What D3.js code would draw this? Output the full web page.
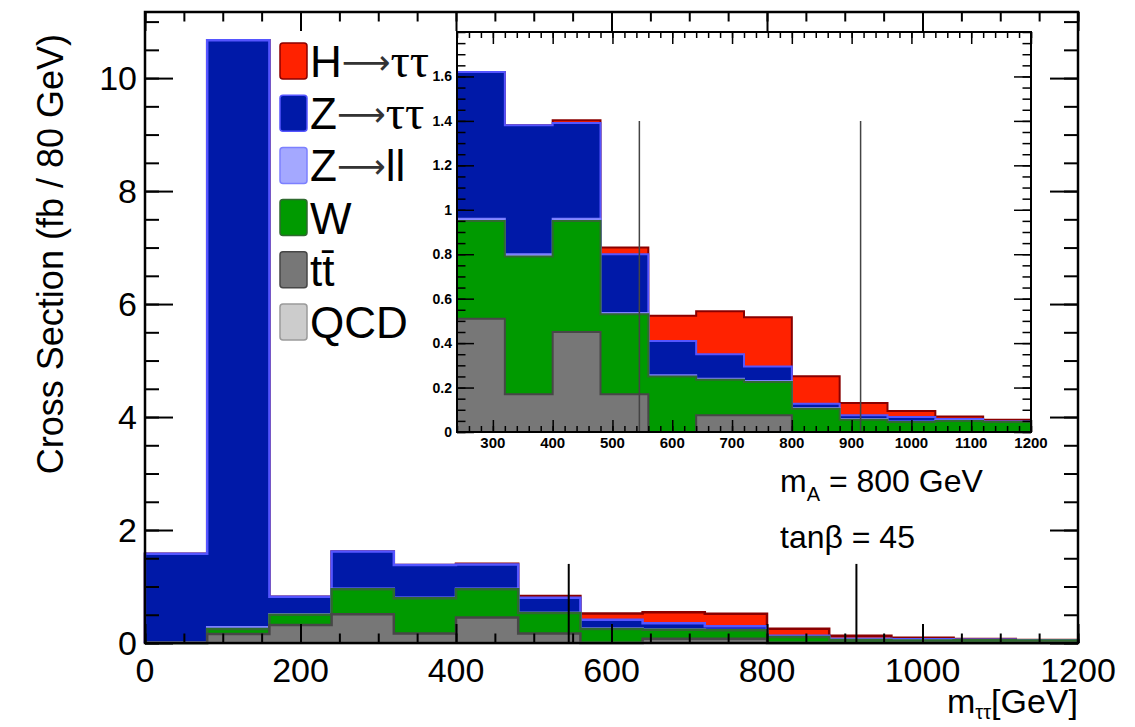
<!DOCTYPE html>
<html>
<head>
<meta charset="utf-8">
<title>m_tautau stack</title>
<script src="https://d3js.org/d3.v7.min.js"></script>
<style>
  body { margin: 0; background: #fff; }
  text { font-family: "Liberation Sans", Arial, Helvetica, sans-serif; fill: #000; }
</style>
</head>
<body>
<script>
// bins of 80 GeV
const binEdges = [0, 80, 160, 240, 320, 400, 480, 560, 640, 720, 800, 880, 960, 1040, 1120, 1200];
// per-bin contributions (fb / 80 GeV), stacked bottom -> top
const qcd   = [0, 0, 0, 0, 0, 0, 0, 0, 0, 0, 0, 0, 0, 0, 0];
const ttbar = [0, 0.16, 0.32, 0.51, 0.17, 0.45, 0.17, 0, 0.075, 0.075, 0, 0, 0, 0, 0];
const wjets = [0, 0.09, 0.18, 0.44, 0.62, 0.50, 0.36, 0.25, 0.16, 0.15, 0.105, 0.055, 0.045, 0.05, 0.045];
const zll   = [0.01, 0.03, 0.01, 0.01, 0.01, 0.01, 0.005, 0.005, 0.005, 0.005, 0.003, 0.003, 0.002, 0.002, 0.001];
const ztt   = [1.57, 10.39, 0.31, 0.66, 0.58, 0.43, 0.265, 0.155, 0.11, 0.065, 0.019, 0.017, 0.02, 0.006, 0.001];
const htt   = [0, 0, 0, 0, 0, 0.013, 0.03, 0.113, 0.193, 0.221, 0.124, 0.055, 0.027, 0.012, 0.008];

const cutLines = [545, 915];
const cutHeight = 1.4;

const mainXTicks = [0, 200, 400, 600, 800, 1000, 1200];
const mainYTicks = [0, 2, 4, 6, 8, 10];
const insetXTicks = [300, 400, 500, 600, 700, 800, 900, 1000, 1100, 1200];
const insetYTicks = [0, 0.2, 0.4, 0.6, 0.8, 1, 1.2, 1.4, 1.6];

const series = [
  { name: "QCD",  vals: qcd,   fill: "#cccccc", line: "#9a9a9a" },
  { name: "tt",   vals: ttbar, fill: "#777777", line: "#474747" },
  { name: "W",    vals: wjets, fill: "#009a00", line: "#2f6a2f" },
  { name: "Zll",  vals: zll,   fill: "#a4a8ff", line: "#7c80ff" },
  { name: "Ztt",  vals: ztt,   fill: "#0019a8", line: "#5555ff" },
  { name: "Htt",  vals: htt,   fill: "#ff2200", line: "#8a0000" }
];

// cumulative sums
let run = binEdges.slice(1).map(() => 0);
series.forEach(s => {
  run = run.map((r, i) => r + s.vals[i]);
  s.cum = run.slice();
});

const W = 1135, H = 727;
const svg = d3.select("body").append("svg").attr("width", W).attr("height", H);

function stack(g, x, y, xmin, sw) {
  const drawOrder = series.slice().reverse();
  drawOrder.forEach(s => {
    const pts = [];
    for (let i = 0; i < binEdges.length - 1; i++) {
      if (binEdges[i] < xmin) continue;
      pts.push({ x: binEdges[i], v: s.cum[i] });
      pts.push({ x: binEdges[i + 1], v: s.cum[i] });
    }
    g.append("path")
      .attr("d", d3.area().x(d => x(d.x)).y0(y(0)).y1(d => y(d.v))(pts))
      .attr("fill", s.fill);
    const outline = [{ x: pts[0].x, v: 0 }].concat(pts, [{ x: pts[pts.length - 1].x, v: 0 }]);
    g.append("path")
      .attr("d", d3.line().x(d => x(d.x)).y(d => y(d.v))(outline))
      .attr("fill", "none")
      .attr("stroke", s.line)
      .attr("stroke-width", sw);
  });
}

function ticks(g, x, y, majX, minX, majY, minY, lx, ly) {
  const [x0, x1] = x.range(), [y0, y1] = y.range();
  // bottom / top
  g.append("g").attr("transform", `translate(0,${y0})`)
    .call(d3.axisBottom(x).tickValues(minX).tickSize(-lx / 2).tickFormat(""));
  g.append("g").attr("transform", `translate(0,${y0})`)
    .call(d3.axisBottom(x).tickValues(majX).tickSize(-lx).tickFormat(""));
  g.append("g").attr("transform", `translate(0,${y1})`)
    .call(d3.axisTop(x).tickValues(minX).tickSize(-lx / 2).tickFormat(""));
  g.append("g").attr("transform", `translate(0,${y1})`)
    .call(d3.axisTop(x).tickValues(majX).tickSize(-lx).tickFormat(""));
  // left / right
  g.append("g").attr("transform", `translate(${x0},0)`)
    .call(d3.axisLeft(y).tickValues(minY).tickSize(-ly / 2).tickFormat(""));
  g.append("g").attr("transform", `translate(${x0},0)`)
    .call(d3.axisLeft(y).tickValues(majY).tickSize(-ly).tickFormat(""));
  g.append("g").attr("transform", `translate(${x1},0)`)
    .call(d3.axisRight(y).tickValues(minY).tickSize(-ly / 2).tickFormat(""));
  g.append("g").attr("transform", `translate(${x1},0)`)
    .call(d3.axisRight(y).tickValues(majY).tickSize(-ly).tickFormat(""));
  g.selectAll(".domain").remove();
  g.selectAll(".tick line").attr("stroke", "#000");
}

// ---------- main plot ----------
const mx = d3.scaleLinear().domain([0, 1200]).range([145, 1078]);
const my = d3.scaleLinear().domain([0, 11.17]).range([643, 12]);
const main = svg.append("g");
stack(main, mx, my, 0, 2.5);

main.selectAll(".cut").data(cutLines).join("line")
  .attr("x1", d => mx(d)).attr("x2", d => mx(d))
  .attr("y1", my(0)).attr("y2", my(cutHeight))
  .attr("stroke", "#000").attr("stroke-width", 2);

ticks(main, mx, my, mainXTicks, d3.range(0, 1201, 50), mainYTicks, d3.range(0, 11.1, 0.5), 19, 28);
main.selectAll(".tick line").attr("stroke-width", 2);
main.append("rect").attr("x", 145).attr("y", 12).attr("width", 933).attr("height", 631)
  .attr("fill", "none").attr("stroke", "#000").attr("stroke-width", 2.5);

main.selectAll(".xl").data(mainXTicks).join("text")
  .attr("x", d => mx(d)).attr("y", 682)
  .attr("text-anchor", "middle").attr("font-size", 34).text(d => d);
main.selectAll(".yl").data(mainYTicks).join("text")
  .attr("x", 137).attr("y", d => my(d) + 12)
  .attr("text-anchor", "end").attr("font-size", 34).text(d => d);

svg.append("text")
  .attr("transform", "translate(63,34) rotate(-90)")
  .attr("text-anchor", "end").attr("font-size", 36)
  .text("Cross Section (fb / 80 GeV)");

const xt = svg.append("text").attr("x", 1078).attr("y", 713)
  .attr("text-anchor", "end").attr("font-size", 34);
xt.append("tspan").text("m");
xt.append("tspan").attr("font-size", 20).attr("dy", 6).text("ττ");
xt.append("tspan").attr("dy", -6).text("[GeV]");

// ---------- legend ----------
const legend = [
  { s: series[5], a: "H", b: "ττ" },
  { s: series[4], a: "Z", b: "ττ" },
  { s: series[3], a: "Z", b: "ll" },
  { s: series[2], a: "W" },
  { s: series[1], a: "tt̄" },
  { s: series[0], a: "QCD" }
];
const lg = svg.append("g").attr("transform", "translate(280,43)");
legend.forEach((d, i) => {
  lg.append("rect").attr("x", 0).attr("y", i * 52.2).attr("width", 27).attr("height", 36)
    .attr("rx", 3).attr("fill", d.s.fill).attr("stroke", d.s.line).attr("stroke-width", 1.5);
  const t = lg.append("text").attr("x", 30).attr("y", i * 52.2 + 34).attr("font-size", 44);
  t.append("tspan").text(d.a);
  if (d.b) {
    t.append("tspan").attr("font-family", "DejaVu Sans").attr("font-size", 34)
      .attr("fill", "#333").attr("dy", -3).text("⟶");
    t.append("tspan").attr("dy", 3)
      .attr("font-family", d.b === "ττ" ? "'Liberation Serif', serif" : null)
      .attr("font-size", d.b === "ττ" ? 48 : 44).text(d.b);
  }
});

// ---------- inset ----------
const ix = d3.scaleLinear().domain([240, 1200]).range([457, 1031]);
const iy = d3.scaleLinear().domain([0, 1.8]).range([432, 32]);
const inset = svg.append("g");
inset.append("rect").attr("x", 457).attr("y", 32).attr("width", 574).attr("height", 400).attr("fill", "#fff");
stack(inset, ix, iy, 240, 2);

inset.selectAll(".cut").data(cutLines).join("line")
  .attr("x1", d => ix(d)).attr("x2", d => ix(d))
  .attr("y1", iy(0)).attr("y2", iy(cutHeight))
  .attr("stroke", "#444").attr("stroke-width", 1.5);

ticks(inset, ix, iy, insetXTicks, d3.range(240, 1201, 20), insetYTicks, d3.range(0, 1.81, 0.05), 12, 17);
inset.selectAll(".tick line").attr("stroke-width", 1.5);
inset.append("rect").attr("x", 457).attr("y", 32).attr("width", 574).attr("height", 400)
  .attr("fill", "none").attr("stroke", "#000").attr("stroke-width", 2);

inset.selectAll(".ixl").data(insetXTicks).join("text")
  .attr("x", d => ix(d)).attr("y", 448)
  .attr("text-anchor", "middle").attr("font-size", 15).attr("font-weight", "bold").text(d => d);
inset.selectAll(".iyl").data(insetYTicks).join("text")
  .attr("x", 452).attr("y", d => iy(d) + 5)
  .attr("text-anchor", "end").attr("font-size", 14).attr("font-weight", "bold").text(d => d);

// ---------- annotations ----------
const ma = svg.append("text").attr("x", 780).attr("y", 492).attr("font-size", 32);
ma.append("tspan").text("m");
ma.append("tspan").attr("font-size", 20).attr("dy", 9).text("A");
ma.append("tspan").attr("dy", -9).text(" = 800 GeV");
svg.append("text").attr("x", 780).attr("y", 548).attr("font-size", 32).text("tanβ = 45");
</script>
</body>
</html>
